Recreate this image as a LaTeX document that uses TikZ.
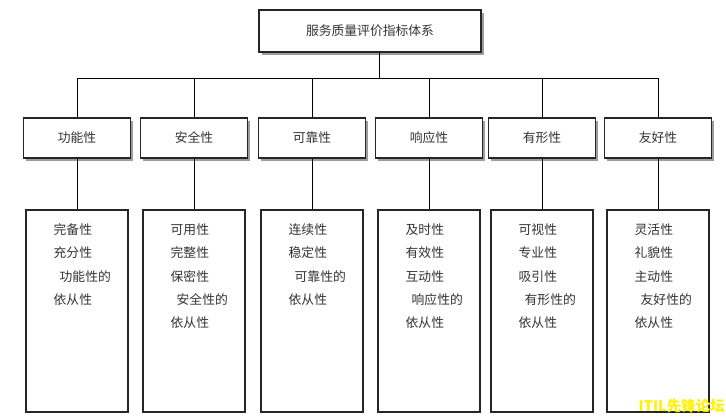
\documentclass[tikz,border=0pt]{standalone}
\usepackage{fontspec}
\newfontfamily\cjk{Noto Sans CJK SC}
\usetikzlibrary{shadows}

\tikzset{
    boxshadow/.style={drop shadow={shadow xshift=2.5pt, shadow yshift=-2.5pt, fill=black!55, opacity=0.7}},
    rootbox/.style={draw=black!85, line width=1.1pt, fill=white, inner sep=0pt,
        minimum width=222pt, minimum height=42pt, boxshadow},
    aspectbox/.style={draw=black!85, line width=1.1pt, fill=white, inner sep=0pt,
        minimum width=107pt, minimum height=40pt, boxshadow},
    itembox/.style={draw=black!85, line width=1.1pt, fill=white, inner sep=0pt,
        minimum width=102pt, minimum height=202pt},
    itemtext/.style={inner sep=0pt, align=left, anchor=north west},
    link/.style={draw=black, line width=0.8pt}
}

\begin{document}
\begin{tikzpicture}[x=1pt, y=-1pt, font=\cjk\fontsize{12.8}{23.3}\selectfont, text=black!80]
    \useasboundingbox (0,0) rectangle (726,418);

    % Root
    \node[rootbox] (root) at (370,31) {服务质量评价指标体系};
    \coordinate (hub) at (379,78);

    % Aspects and their items
    \foreach \i/\x/\name/\items in {
        1/77/功能性/{完备性\\充分性\\\hspace{6pt}功能性的\\依从性},
        2/194/安全性/{可用性\\完整性\\保密性\\\hspace{6pt}安全性的\\依从性},
        3/312/可靠性/{连续性\\稳定性\\\hspace{6pt}可靠性的\\依从性},
        4/429/响应性/{及时性\\有效性\\互动性\\\hspace{6pt}响应性的\\依从性},
        5/542/有形性/{可视性\\专业性\\吸引性\\\hspace{6pt}有形性的\\依从性},
        6/658/友好性/{灵活性\\礼貌性\\主动性\\\hspace{6pt}友好性的\\依从性}} {
        \node[aspectbox] (a\i) at (\x,138) {\name};
        \node[itembox] (b\i) at (\x,311) {};
        \node[itemtext] (t\i) at ([xshift=28pt, yshift=-14pt]b\i.north west) {\items};
        \draw[link] (a\i |- hub) -- (a\i.north);
        \draw[link] (a\i.south) -- (b\i.north);
    }

    % Bus
    \draw[link] (hub |- root.south) -- (hub);
    \draw[link] (a1 |- hub) -- (a6 |- hub);

    % Mark
    \node[font=\cjk\bfseries\fontsize{14.5}{16}\selectfont, text=yellow, inner sep=0pt, anchor=east] (mark) at (725,406) {ITIL先锋论坛};
\end{tikzpicture}
\end{document}
